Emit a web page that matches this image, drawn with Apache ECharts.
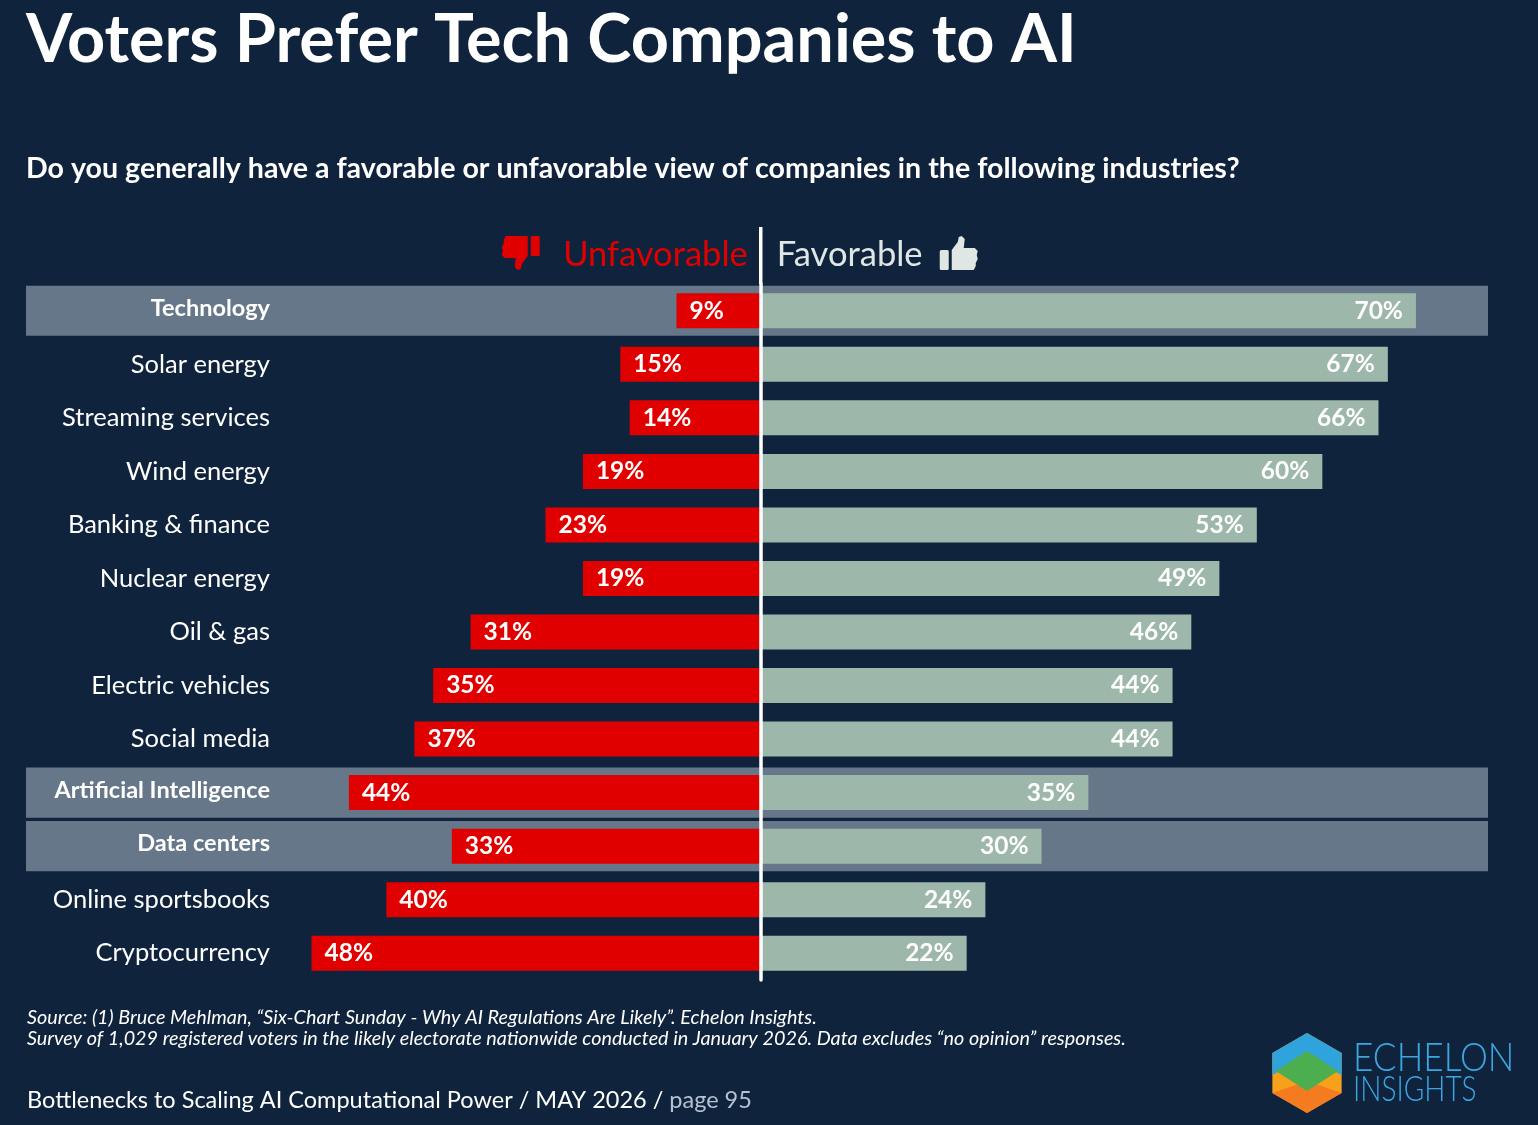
<!DOCTYPE html>
<html lang="en">
<head>
<meta charset="utf-8">
<title>Voters Prefer Tech Companies to AI</title>
<script src="https://cdn.jsdelivr.net/npm/echarts@6.0.0/dist/echarts.min.js"></script>
<style>
  html, body { margin: 0; padding: 0; background: #10233d; }
  #main { width: 1538px; height: 1125px; }
</style>
</head>
<body>
<div id="main"></div>
<script type="text/javascript">
// data
var categories = ['Technology', 'Solar energy', 'Streaming services', 'Wind energy', 'Banking & finance',
  'Nuclear energy', 'Oil & gas', 'Electric vehicles', 'Social media', 'Artificial Intelligence',
  'Data centers', 'Online sportsbooks', 'Cryptocurrency'];
var unfavorable = [9, 15, 14, 19, 23, 19, 31, 35, 37, 44, 33, 40, 48];
var favorable = [70, 67, 66, 60, 53, 49, 46, 44, 44, 35, 30, 24, 22];
var highlighted = ['Technology', 'Artificial Intelligence', 'Data centers'];

var BG = '#10233d';
var RED = '#e10000';
var GREEN = '#9db8aa';
var BAND = '#66778a';
var FONT = 'Lato';

var chart = echarts.init(document.getElementById('main'));

var bandData = highlighted.map(function (c) { return [categories.indexOf(c)]; });

chart.setOption({
  backgroundColor: BG,
  animation: false,
  textStyle: { fontFamily: FONT },
  title: [
    {
      text: 'Voters Prefer Tech Companies to AI',
      left: 21, top: 2,
      textStyle: { color: '#ffffff', fontSize: 66.6, fontWeight: 'bold', fontFamily: FONT }
    },
    {
      text: 'Do you generally have a favorable or unfavorable view of companies in the following industries?',
      left: 21, top: 149,
      textStyle: { color: '#ffffff', fontSize: 28.6, fontWeight: 'bold', fontFamily: FONT }
    },
    {
      text: 'Source: (1) Bruce Mehlman, \u201cSix-Chart Sunday - Why AI Regulations Are Likely\u201d. Echelon Insights.\n' +
        'Survey of 1,029 registered voters in the likely electorate nationwide conducted in January 2026. Data excludes \u201cno opinion\u201d responses.',
      left: 22, top: 1002,
      textStyle: { color: '#ffffff', fontSize: 19.8, fontStyle: 'italic', fontWeight: 'normal', lineHeight: 21, fontFamily: FONT }
    },
    {
      text: '{a|Bottlenecks to Scaling AI Computational Power / MAY 2026 / }{b|page 95}',
      left: 22, top: 1083,
      textStyle: {
        fontWeight: 'normal',
        rich: {
          a: { color: '#ffffff', fontSize: 23.5, fontWeight: 'normal', fontFamily: FONT },
          b: { color: '#b4c2d2', fontSize: 23.5, fontWeight: 'normal', fontFamily: FONT }
        }
      }
    }
  ],
  grid: { left: 26, right: 50, top: 284, bottom: 145, outerBoundsMode: 'none' },
  xAxis: {
    type: 'value', min: -78.5, max: 77.7, show: false
  },
  yAxis: {
    type: 'category', data: categories, inverse: true, z: 10,
    axisLine: { show: true, onZero: true, lineStyle: { color: '#ffffff', width: 3.5 } },
    axisTick: { show: false },
    splitLine: { show: false },
    axisLabel: {
      margin: -244,
      align: 'right',
      color: '#ffffff',
      fontSize: 25.5,
      fontFamily: FONT,
      formatter: function (v) {
        return highlighted.indexOf(v) >= 0 ? '{h|' + v + '}' : v;
      },
      rich: {
        h: { fontWeight: 'bold', fontSize: 23.5, color: '#ffffff', fontFamily: FONT, padding: [0, 0, 5, 0] }
      }
    }
  },
  series: [
    {
      name: 'band',
      type: 'custom',
      z: 1,
      silent: true,
      data: bandData,
      encode: { y: 0 },
      renderItem: function (params, api) {
        var cs = params.coordSys;
        var yc = api.coord([0, api.value(0)])[1];
        var h = api.size([0, 1])[1] * 0.935;
        return {
          type: 'rect',
          shape: { x: cs.x, y: yc - h / 2, width: cs.width, height: h },
          style: { fill: BAND }
        };
      }
    },
    {
      name: 'Unfavorable',
      type: 'bar',
      stack: 'view',
      z: 3,
      barWidth: 35,
      data: unfavorable.map(function (v) { return -v; }),
      itemStyle: { color: RED },
      label: {
        show: true, position: 'insideLeft', distance: 13,
        color: '#ffffff', fontSize: 24.5, fontWeight: 'bold', fontFamily: FONT,
        formatter: function (p) { return Math.abs(p.value) + '%'; }
      }
    },
    {
      name: 'Favorable',
      type: 'bar',
      stack: 'view',
      z: 3,
      barWidth: 35,
      data: favorable,
      itemStyle: { color: GREEN },
      label: {
        show: true, position: 'insideRight', distance: 13,
        color: '#ffffff', fontSize: 24.5, fontWeight: 'bold', fontFamily: FONT,
        formatter: '{c}%'
      }
    }
  ]
});

// header above the bars, placed from the zero position of the value axis
var x0 = chart.convertToPixel({ xAxisIndex: 0 }, 0);
var gridTop = 284;

// thumb icon in a 38x34 box
function thumb(x, y, color, down) {
  return {
    type: 'group', x: x, y: y, z: 20,
    rotation: down ? Math.PI : 0, originX: 19, originY: 17,
    children: [
      { type: 'rect', shape: { x: 0, y: 14, width: 9, height: 20, r: 1.5 }, style: { fill: color } },
      {
        type: 'polygon',
        shape: { points: [[12, 14], [18, 6], [19, 1], [22, 0], [25, 3], [24, 12], [35, 12], [38, 15], [37, 19],
          [38, 23], [36, 27], [36, 30], [34, 34], [12, 34]] },
        style: { fill: color }
      }
    ]
  };
}

var cx = 1307, cy = 1073, r = 40, w = r * 0.866;
function pt(dx, dy) { return [cx + dx, cy + dy]; }

chart.setOption({
  graphic: [
    {
      type: 'line', z: 20,
      shape: { x1: x0, y1: 227, x2: x0, y2: gridTop },
      style: { stroke: '#ffffff', lineWidth: 3.5 }
    },
    {
      type: 'text', z: 20, x: x0 - 13, y: 255,
      style: { text: 'Unfavorable', fill: RED, font: '34.5px ' + FONT, textAlign: 'right', textVerticalAlign: 'middle' }
    },
    {
      type: 'text', z: 20, x: x0 + 16, y: 255,
      style: { text: 'Favorable', fill: '#dfe6e4', font: '34.5px ' + FONT, textAlign: 'left', textVerticalAlign: 'middle' }
    },
    thumb(x0 + 179, 236, '#dfe6e4', false),
    thumb(x0 - 259, 236, RED, true),
    // logo
    {
      type: 'polygon', z: 20,
      shape: { points: [pt(0, -r), pt(w, -r / 2), pt(w, r / 2), pt(0, r), pt(-w, r / 2), pt(-w, -r / 2)] },
      style: { fill: '#f7a11b' }
    },
    {
      type: 'polygon', z: 21,
      shape: { points: [pt(0, r * 0.2), pt(w, r / 2), pt(0, r), pt(-w, r / 2)] },
      style: { fill: '#f47b20' }
    },
    {
      type: 'polygon', z: 21,
      shape: { points: [pt(0, -r), pt(w, -r / 2), pt(w, r * 0.05), pt(0, -r * 0.4), pt(-w, r * 0.05), pt(-w, -r / 2)] },
      style: { fill: '#2ea3dc' }
    },
    {
      type: 'polygon', z: 22,
      shape: { points: [pt(0, -r * 0.55), pt(w * 0.9, -r * 0.05), pt(0, r * 0.45), pt(-w * 0.9, -r * 0.05)] },
      style: { fill: '#4cae4f' }
    },
    {
      type: 'text', z: 20, x: 1353, y: 1058, scaleX: 0.88,
      style: { text: 'ECHELON', fill: '#3aa7e2', font: '300 40px ' + FONT, textVerticalAlign: 'middle' }
    },
    {
      type: 'text', z: 20, x: 1353, y: 1090, scaleX: 0.8,
      style: { text: 'INSIGHTS', fill: '#3aa7e2', font: '300 35px ' + FONT, textVerticalAlign: 'middle' }
    }
  ]
});
</script>
</body>
</html>
